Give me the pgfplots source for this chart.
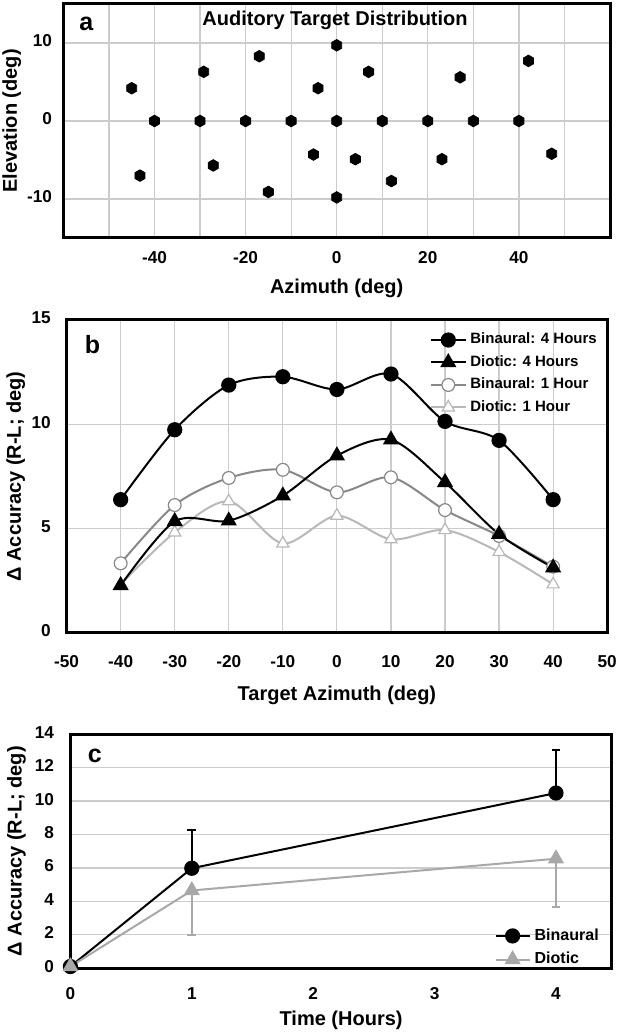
\documentclass[border=0pt]{standalone}
\usepackage{fontspec}
\setmainfont{Liberation Sans}
\usepackage{pgfplots}
\pgfplotsset{compat=1.18}

\definecolor{gridgray}{HTML}{CCCCCC}
\definecolor{midgray}{HTML}{888888}
\definecolor{ltgray}{HTML}{B8B8B8}
\definecolor{cgray}{HTML}{A8A8A8}

% hexagon marker for the target map
\pgfdeclareplotmark{hex*}{%
  \pgfpathmoveto{\pgfpointpolar{90}{\pgfplotmarksize}}%
  \pgfpathlineto{\pgfpointpolar{150}{\pgfplotmarksize}}%
  \pgfpathlineto{\pgfpointpolar{210}{\pgfplotmarksize}}%
  \pgfpathlineto{\pgfpointpolar{270}{\pgfplotmarksize}}%
  \pgfpathlineto{\pgfpointpolar{330}{\pgfplotmarksize}}%
  \pgfpathlineto{\pgfpointpolar{30}{\pgfplotmarksize}}%
  \pgfpathclose\pgfusepathqfillstroke}

\tikzset{letter/.style={font=\bfseries\fontsize{12.5}{14}\selectfont}}

\pgfplotsset{
  panel/.style={
    scale only axis, anchor=south west,
    axis line style={line width=1.5pt},
    grid style={gridgray, line width=0.6pt},
    tick style={draw=none},
    typeset ticklabels with strut,
    /pgf/number format/assume math mode=true,
    tick label style={font=\bfseries\fontsize{8.6}{10}\selectfont},
    label style={font=\bfseries\fontsize{10}{12}\selectfont},
    legend style={draw=none, fill=none, font=\bfseries\fontsize{7.5}{9}\selectfont},
    legend cell align=left,
  },
}

\begin{document}
\begin{tikzpicture}

% ---------- a ----------
\begin{axis}[panel, at={(31.7pt,397pt)}, width=273.3pt, height=117pt,
  xmin=-60, xmax=60, ymin=-15, ymax=15,
  xtick={-50,-40,...,50}, xticklabels={,-40,,-20,,0,,20,,40,},
  ytick={-10,0,10}, grid=major,
  xticklabel style={yshift=-2pt}, yticklabel style={xshift=-2.2pt},
  xlabel={Azimuth (deg)}, ylabel={Elevation (deg)},
  xlabel style={at={([yshift=-25pt]axis description cs:0.5,0)}, anchor=center},
  ylabel style={at={([xshift=-25.8pt]axis description cs:0,0.5)}, anchor=center},
]
\addplot[only marks, mark=hex*, mark size=2.9pt, black] coordinates {
  (-45,4.2) (-40,0) (-43.2,-7.0) (-30,0) (-29.2,6.3) (-27.1,-5.7)
  (-20,0) (-17,8.3) (-15,-9.1) (-10,0) (-5.1,-4.3) (-4.1,4.2)
  (0,9.7) (0,0) (0,-9.8) (4.1,-4.9) (7,6.3) (10,0) (12,-7.7)
  (20,0) (23.1,-4.9) (27.1,5.6) (30,0) (40,0) (42.1,7.7) (47.2,-4.2)
};
\node[letter] at (rel axis cs:0.042,0.917) {a};
\node[font=\bfseries\fontsize{10}{12}\selectfont] at (rel axis cs:0.497,0.93) {Auditory Target Distribution};
\end{axis}

% ---------- b ----------
\begin{axis}[panel, at={(33.3pt,199.5pt)}, width=270.3pt, height=156.5pt,
  xmin=-50, xmax=50, ymin=0, ymax=15,
  xtick={-50,-40,...,50}, ytick={0,5,10,15}, grid=major,
  xticklabel style={yshift=-6.5pt}, yticklabel style={xshift=-4.4pt},
  xlabel={Target Azimuth (deg)}, ylabel={Δ Accuracy (R-L; deg)},
  xlabel style={at={([yshift=-31pt]axis description cs:0.5,0)}, anchor=center},
  ylabel style={at={([xshift=-25.4pt]axis description cs:0,0.5)}, anchor=center},
  reverse legend,
  legend style={at={(rel axis cs:1.0,0.985)}, anchor=north east, row sep=0.3pt},
]
\addplot[ltgray, line width=1pt, smooth, tension=0.5, mark=triangle*, mark size=3.5pt,
  mark options={fill=white, draw=ltgray, line width=0.6pt}] coordinates {
  (-40,2.33) (-30,4.82) (-20,6.31) (-10,4.29) (0,5.62) (10,4.49) (20,4.93) (30,3.88) (40,2.33)
};
\addlegendentry{Diotic: 1 Hour}
\addplot[midgray, line width=1pt, smooth, tension=0.5, mark=*, mark size=3.2pt,
  mark options={fill=white, draw=midgray, line width=0.6pt}] coordinates {
  (-40,3.34) (-30,6.13) (-20,7.43) (-10,7.82) (0,6.74) (10,7.46) (20,5.89) (30,4.65) (40,3.18)
};
\addlegendentry{Binaural: 1 Hour}
\addplot[black, line width=1pt, smooth, tension=0.5, mark=triangle*, mark size=3.7pt] coordinates {
  (-40,2.28) (-30,5.35) (-20,5.38) (-10,6.58) (0,8.5) (10,9.26) (20,7.22) (30,4.73) (40,3.13)
};
\addlegendentry{Diotic: 4 Hours}
\addplot[black, line width=1pt, smooth, tension=0.5, mark=*, mark size=3.3pt] coordinates {
  (-40,6.39) (-30,9.74) (-20,11.88) (-10,12.28) (0,11.67) (10,12.41) (20,10.14) (30,9.23) (40,6.39)
};
\addlegendentry{Binaural: 4 Hours}
\node[letter] at (rel axis cs:0.048,0.92) {b};
\end{axis}

% ---------- c ----------
\begin{axis}[panel, at={(35.2pt,31.9pt)}, width=270.7pt, height=117pt,
  xmin=0, xmax=4.46, ymin=0, ymax=14,
  xtick={0,1,2,3,4}, ytick={0,2,...,14}, ymajorgrids,
  xticklabel style={yshift=-5pt}, yticklabel style={xshift=-4.7pt},
  xlabel={Time (Hours)}, ylabel={Δ Accuracy (R-L; deg)},
  xlabel style={at={([yshift=-26pt]axis description cs:0.5,0)}, anchor=center},
  ylabel style={at={([xshift=-27pt]axis description cs:0,0.5)}, anchor=center},
  legend style={at={(rel axis cs:0.995,-0.03)}, anchor=south east, row sep=0.5pt,
    font=\bfseries\fontsize{8}{9}\selectfont},
  clip=false,
]
\addplot[black, line width=1pt, mark=*, mark size=3.3pt,
  error bars/.cd, y dir=plus, y explicit, error mark=|,
  error mark options={mark size=2.2pt, line width=0.8pt},
  error bar style={line width=0.8pt}] coordinates {
  (0,0.1) (1,5.98) +- (0,2.3) (4,10.48) +- (0,2.58)
};
\addlegendentry{Binaural}
\addplot[cgray, line width=1pt, mark=triangle*, mark size=3.7pt,
  error bars/.cd, y dir=minus, y explicit, error mark=|,
  error mark options={mark size=2.2pt, line width=0.8pt},
  error bar style={line width=0.8pt}] coordinates {
  (0,0.1) (1,4.65) +- (0,2.65) (4,6.55) +- (0,2.9)
};
\addlegendentry{Diotic}
\node[letter] at (rel axis cs:0.045,0.907) {c};
\end{axis}

\pgfresetboundingbox
\useasboundingbox (0,0) rectangle (309pt,516pt);
\end{tikzpicture}
\end{document}
